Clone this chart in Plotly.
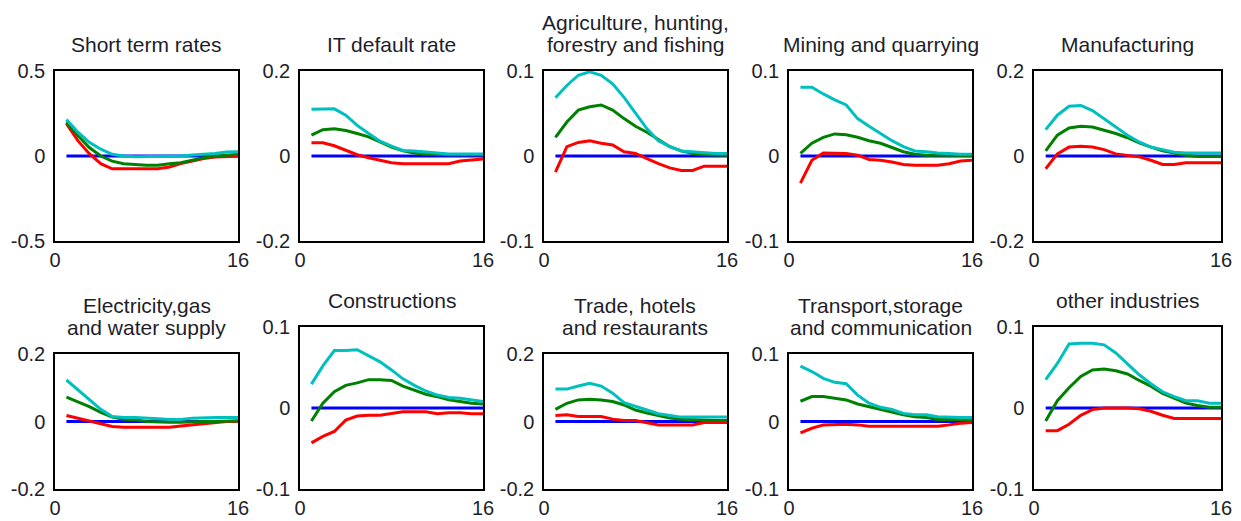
import plotly.graph_objects as go

# ---------------- data ----------------
horizon = list(range(1, 17))
zero_line = [0.0] * 16

titles = [
    ["Short term rates"],
    ["IT default rate"],
    ["Agriculture, hunting,", "forestry and fishing"],
    ["Mining and quarrying"],
    ["Manufacturing"],
    ["Electricity,gas", "and water supply"],
    ["Constructions"],
    ["Trade, hotels", "and restaurants"],
    ["Transport,storage", "and communication"],
    ["other industries"],
]
y_limits = [0.5, 0.2, 0.1, 0.1, 0.2, 0.2, 0.1, 0.2, 0.1, 0.1]
y_ticklabels = [["-0.5", "0", "0.5"], ["-0.2", "0", "0.2"], ["-0.1", "0", "0.1"],
                ["-0.1", "0", "0.1"], ["-0.2", "0", "0.2"], ["-0.2", "0", "0.2"],
                ["-0.1", "0", "0.1"], ["-0.2", "0", "0.2"], ["-0.1", "0", "0.1"],
                ["-0.1", "0", "0.1"]]
x_ticks = [0, 16]

str_red = [0.19, 0.09, 0.014, -0.045, -0.075, -0.075, -0.075, -0.075, -0.075, -0.065, -0.045, -0.03, -0.015, -0.006, -0.005, -0.002]
str_green = [0.20, 0.12, 0.05, 0.0, -0.03, -0.045, -0.05, -0.055, -0.055, -0.045, -0.04, -0.025, -0.01, -0.002, 0.004, 0.01]
str_cyan = [0.214, 0.14, 0.08, 0.04, 0.01, 0.0, -0.004, -0.004, -0.004, -0.002, 0.0, 0.006, 0.01, 0.015, 0.024, 0.025]

itd_red = [0.031, 0.031, 0.024, 0.013, 0.003, -0.004, -0.01, -0.016, -0.018, -0.018, -0.018, -0.018, -0.018, -0.012, -0.009, -0.007]
itd_green = [0.049, 0.062, 0.064, 0.06, 0.053, 0.045, 0.033, 0.021, 0.012, 0.007, 0.004, 0.003, 0.003, 0.003, 0.003, 0.003]
itd_cyan = [0.11, 0.11, 0.111, 0.096, 0.072, 0.053, 0.035, 0.023, 0.013, 0.012, 0.009, 0.007, 0.005, 0.005, 0.005, 0.005]

agr_red = [-0.019, 0.011, 0.016, 0.018, 0.015, 0.013, 0.005, 0.003, -0.003, -0.009, -0.014, -0.017, -0.017, -0.012, -0.012, -0.012]
agr_green = [0.022, 0.04, 0.054, 0.058, 0.06, 0.054, 0.044, 0.035, 0.028, 0.019, 0.011, 0.006, 0.003, 0.0015, 0.001, 0.001]
agr_cyan = [0.0686, 0.083, 0.095, 0.099, 0.095, 0.085, 0.069, 0.05, 0.032, 0.018, 0.011, 0.006, 0.005, 0.0035, 0.003, 0.003]

min_red = [-0.032, -0.005, 0.0035, 0.0035, 0.003, 0.001, -0.004, -0.005, -0.007, -0.01, -0.011, -0.011, -0.011, -0.009, -0.006, -0.005]
min_green = [0.003, 0.015, 0.022, 0.026, 0.025, 0.022, 0.018, 0.015, 0.01, 0.005, 0.002, 0.001, 0.001, 0.001, 0.0005, 0.0005]
min_cyan = [0.081, 0.081, 0.073, 0.066, 0.06, 0.044, 0.035, 0.026, 0.018, 0.011, 0.006, 0.005, 0.0035, 0.003, 0.002, 0.002]

man_red = [-0.03, 0.005, 0.021, 0.023, 0.021, 0.015, 0.005, 0.002, -0.002, -0.01, -0.02, -0.02, -0.016, -0.016, -0.016, -0.016]
man_green = [0.012, 0.049, 0.066, 0.07, 0.068, 0.06, 0.053, 0.043, 0.031, 0.021, 0.012, 0.007, 0.002, -0.001, -0.001, -0.001]
man_cyan = [0.062, 0.096, 0.117, 0.119, 0.107, 0.088, 0.068, 0.049, 0.033, 0.021, 0.015, 0.009, 0.007, 0.007, 0.007, 0.007]

ele_red = [0.018, 0.01, 0.003, -0.007, -0.015, -0.017, -0.017, -0.017, -0.017, -0.017, -0.013, -0.01, -0.007, -0.005, 0.0, 0.0]
ele_green = [0.072, 0.059, 0.044, 0.027, 0.013, 0.007, 0.005, 0.0, -0.002, -0.002, -0.002, 0.0, 0.0, 0.0, 0.0, 0.002]
ele_cyan = [0.123, 0.094, 0.064, 0.036, 0.015, 0.012, 0.012, 0.011, 0.008, 0.006, 0.006, 0.01, 0.012, 0.012, 0.012, 0.012]

con_red = [-0.043, -0.035, -0.029, -0.015, -0.01, -0.009, -0.009, -0.007, -0.0045, -0.0045, -0.0045, -0.007, -0.006, -0.006, -0.007, -0.007]
con_green = [-0.016, 0.006, 0.02, 0.028, 0.031, 0.035, 0.035, 0.034, 0.027, 0.022, 0.017, 0.014, 0.01, 0.008, 0.006, 0.005]
con_cyan = [0.0295, 0.052, 0.071, 0.071, 0.072, 0.065, 0.057, 0.047, 0.036, 0.028, 0.021, 0.016, 0.013, 0.012, 0.01, 0.008]

trd_red = [0.018, 0.02, 0.015, 0.015, 0.015, 0.007, 0.003, 0.003, -0.003, -0.01, -0.01, -0.01, -0.01, -0.003, -0.003, -0.003]
trd_green = [0.036, 0.054, 0.064, 0.066, 0.064, 0.059, 0.049, 0.034, 0.025, 0.017, 0.01, 0.007, 0.005, 0.005, 0.003, 0.003]
trd_cyan = [0.096, 0.096, 0.105, 0.113, 0.105, 0.084, 0.056, 0.044, 0.034, 0.023, 0.017, 0.013, 0.013, 0.013, 0.013, 0.013]

trn_red = [-0.017, -0.01, -0.005, -0.004, -0.004, -0.005, -0.007, -0.007, -0.007, -0.007, -0.007, -0.007, -0.007, -0.005, -0.0025, -0.0015]
trn_green = [0.03, 0.037, 0.037, 0.034, 0.032, 0.026, 0.022, 0.017, 0.013, 0.01, 0.007, 0.006, 0.003, 0.003, 0.003, 0.003]
trn_cyan = [0.082, 0.074, 0.064, 0.058, 0.056, 0.039, 0.027, 0.021, 0.018, 0.012, 0.01, 0.01, 0.007, 0.006, 0.006, 0.006]

oth_red = [-0.028, -0.028, -0.02, -0.009, -0.002, 0.0, 0.0, 0.0, -0.001, -0.004, -0.009, -0.013, -0.013, -0.013, -0.013, -0.013]
oth_green = [-0.016, 0.009, 0.025, 0.039, 0.047, 0.048, 0.046, 0.042, 0.034, 0.027, 0.018, 0.012, 0.006, 0.003, 0.001, 0.001]
oth_cyan = [0.035, 0.055, 0.079, 0.08, 0.08, 0.078, 0.068, 0.055, 0.041, 0.03, 0.02, 0.014, 0.009, 0.009, 0.006, 0.006]

reds = [str_red, itd_red, agr_red, min_red, man_red, ele_red, con_red, trd_red, trn_red, oth_red]
greens = [str_green, itd_green, agr_green, min_green, man_green, ele_green, con_green, trd_green, trn_green, oth_green]
cyans = [str_cyan, itd_cyan, agr_cyan, min_cyan, man_cyan, ele_cyan, con_cyan, trd_cyan, trn_cyan, oth_cyan]

# ---------------- layout (pixels in the 1241x521 window) ----------------
PAGE_W, PAGE_H = 1241, 521
OFF = 8                      # default body margin of the html page
W, H = PAGE_W - OFF, PAGE_H - OFF
col_left = [55, 300, 544, 789, 1034]
col_right = [238, 483, 727, 972, 1221]
row1_top, row1_bottom = 71, 241
row2_bottom = 489


def fx(p):
    return (p - OFF) / W


def fy(p):
    return 1 - (p - OFF) / H


FONT = "Liberation Sans, Arial, sans-serif"
TXT = "#1e1e2a"
COLORS = {"blue": "#0000FF", "red": "#FF0000", "green": "#008000", "cyan": "#00BFBF"}

fig = go.Figure()
annotations = []
layout_axes = {}

for k in range(10):
    r, c = divmod(k, 5)
    left, right = col_left[c], col_right[c]
    if r == 0:
        top, bottom = row1_top, row1_bottom
    else:
        top = 354 if len(titles[k]) == 2 else 327
        bottom = row2_bottom
    n = k + 1
    xa = "x" if n == 1 else f"x{n}"
    ya = "y" if n == 1 else f"y{n}"
    for series, col in [(zero_line, "blue"), (reds[k], "red"), (greens[k], "green"), (cyans[k], "cyan")]:
        fig.add_trace(go.Scatter(x=horizon, y=series, mode="lines", xaxis=xa, yaxis=ya,
                                 line=dict(color=COLORS[col], width=3), showlegend=False,
                                 hoverinfo="skip"))
    lim = y_limits[k]
    layout_axes["xaxis" if n == 1 else f"xaxis{n}"] = dict(
        domain=[fx(left), fx(right)], range=[0, 16], anchor=ya, automargin=False,
        tickvals=x_ticks, ticktext=[str(v) for v in x_ticks],
        showgrid=False, zeroline=False, showline=True, mirror=True,
        linecolor="black", linewidth=1.5, ticks="", ticklabelstandoff=0,
        tickfont=dict(family=FONT, size=20, color=TXT), fixedrange=True)
    layout_axes["yaxis" if n == 1 else f"yaxis{n}"] = dict(
        domain=[fy(bottom), fy(top)], range=[-lim, lim], anchor=xa, automargin=False,
        tickvals=[-lim, 0, lim], ticktext=y_ticklabels[k],
        showgrid=False, zeroline=False, showline=True, mirror=True,
        linecolor="black", linewidth=1.5, ticks="", ticklabelstandoff=4,
        tickfont=dict(family=FONT, size=20, color=TXT), fixedrange=True)
    # titles: last line ~26 px above the box, previous line 22 px higher
    lines = titles[k]
    for j, txt in enumerate(lines):
        ypix = top - 26.5 - 22 * (len(lines) - 1 - j)
        annotations.append(dict(text=txt, xref="paper", yref="paper",
                                x=fx((left + right) / 2), y=fy(ypix),
                                xanchor="center", yanchor="middle", showarrow=False,
                                font=dict(family=FONT, size=21, color=TXT)))

fig.update_layout(width=W, height=H, margin=dict(l=0, r=0, t=0, b=0, autoexpand=False),
                  template="none",
                  paper_bgcolor="white", plot_bgcolor="white",
                  annotations=annotations, **layout_axes)

fig.write_html("out.html")
